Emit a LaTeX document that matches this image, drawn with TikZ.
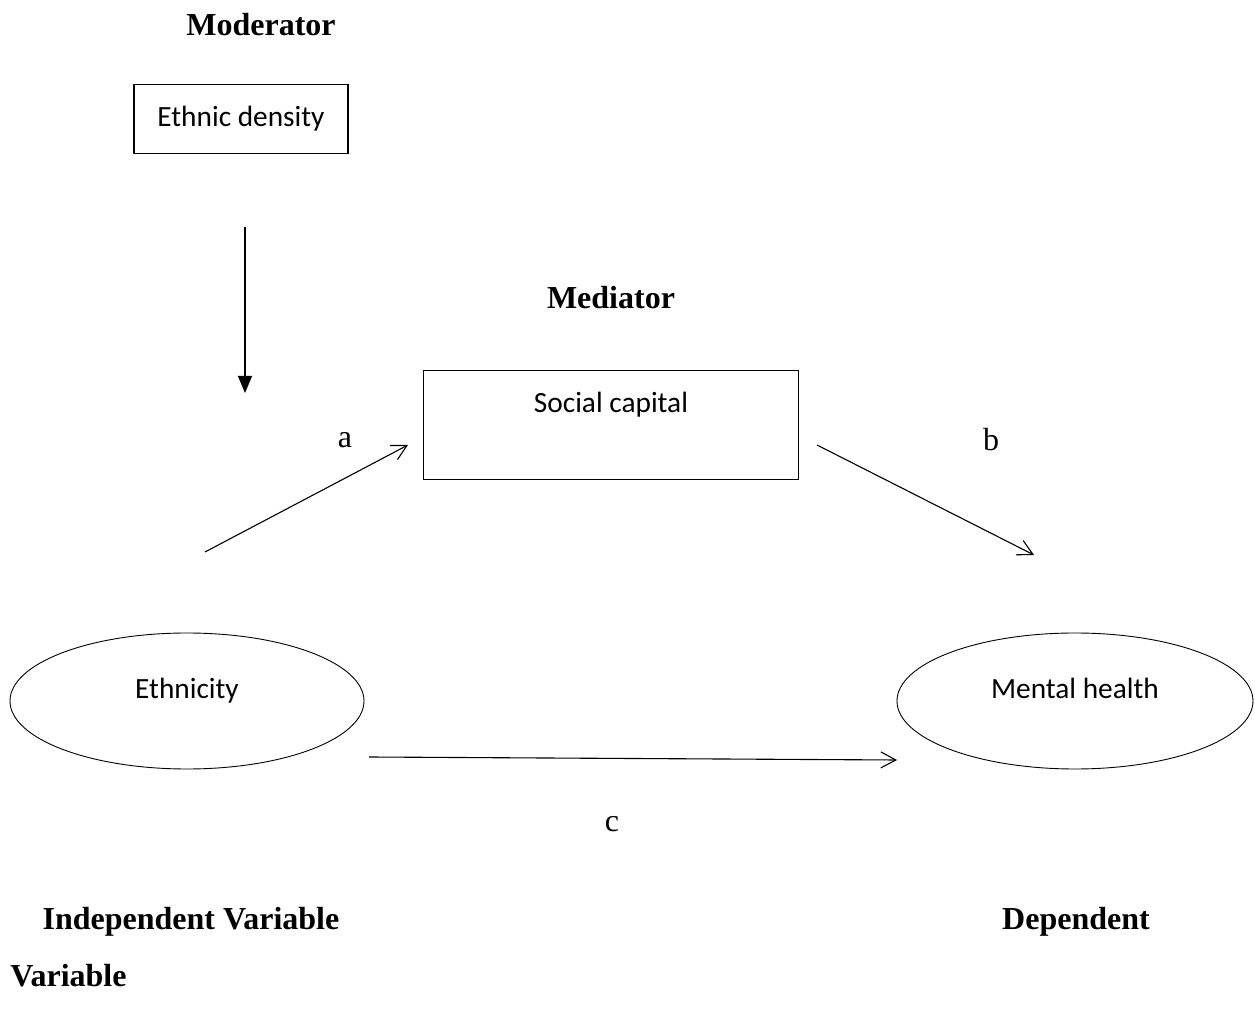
\documentclass[tikz,border=0pt]{standalone}
\usepackage{fontspec}
\setmainfont{Liberation Serif}
\newfontfamily\boxfont{Carlito}
\usepackage{xcolor}
\usetikzlibrary{arrows.meta,shapes.geometric}
\definecolor{ink}{HTML}{000000}
\tikzset{
  heading/.style={font=\fontsize{16}{19}\selectfont\bfseries,text=ink,inner sep=0pt},
  pathlabel/.style={font=\fontsize{16}{19}\selectfont,text=ink,inner sep=0pt},
  varbox/.style={draw=ink,line width=0.6pt,rectangle,inner sep=0pt,
                 font=\fontsize{14.67}{17}\boxfont},
  varoval/.style={draw=ink,line width=0.45pt,ellipse,inner sep=0pt,
                  font=\fontsize{14.67}{17}\boxfont},
  openarr/.style={-{Straight Barb[length=7.5pt,width=8pt]},line width=0.55pt,draw=ink},
  solidarr/.style={-{Triangle[length=8.5pt,width=7pt]},line width=0.55pt,draw=ink}
}

\begin{document}
\begin{tikzpicture}[x=0.5pt,y=-0.5pt]
    \path[use as bounding box] (0,0) rectangle (1255,1010);

    \node[heading] (modhead) at (261,25) {Moderator};
    \node[varbox,minimum width=107pt,minimum height=34.5pt] (density) at (241,119)
      {Ethnic density};

    \node[heading] (medhead) at (611,298) {Mediator};
    \node[varbox,minimum width=187.5pt,minimum height=54.5pt] (social) at (611,425)
      {\raisebox{22.5pt}{Social capital}};

    \node[varoval,minimum width=177pt,minimum height=68pt] (ethnicity) at (187,701)
      {\raisebox{13pt}{Ethnicity}};
    \node[varoval,minimum width=178pt,minimum height=68pt] (mental) at (1075,701)
      {\raisebox{13pt}{Mental health}};

    % moderation arrow
    \coordinate (modtop) at (245,227);
    \coordinate (modtip) at (245,393);
    \draw[solidarr] (modtop) -- (modtip);

    % paths a, b, c
    \coordinate (astart) at (205,552);
    \coordinate (aend) at (408,445);
    \draw[openarr] (astart) -- (aend);
    \node[pathlabel] (alabel) at (345,440) {a};

    \coordinate (bstart) at (817,445);
    \coordinate (bend) at (1034,555);
    \draw[openarr] (bstart) -- (bend);
    \node[pathlabel] (blabel) at (991,440) {b};

    \coordinate (cstart) at (369,757);
    \coordinate (cend) at (897,760);
    \draw[openarr] (cstart) -- (cend);
    \node[pathlabel] (clabel) at (612,824) {c};

    \node[heading] (indephead) at (191,922) {Independent Variable};
    \node[heading] (dephead) at (1076,922) {Dependent};
    \node[heading,anchor=west] (varhead) at (10,976) {Variable};
  \end{tikzpicture}
\end{document}
